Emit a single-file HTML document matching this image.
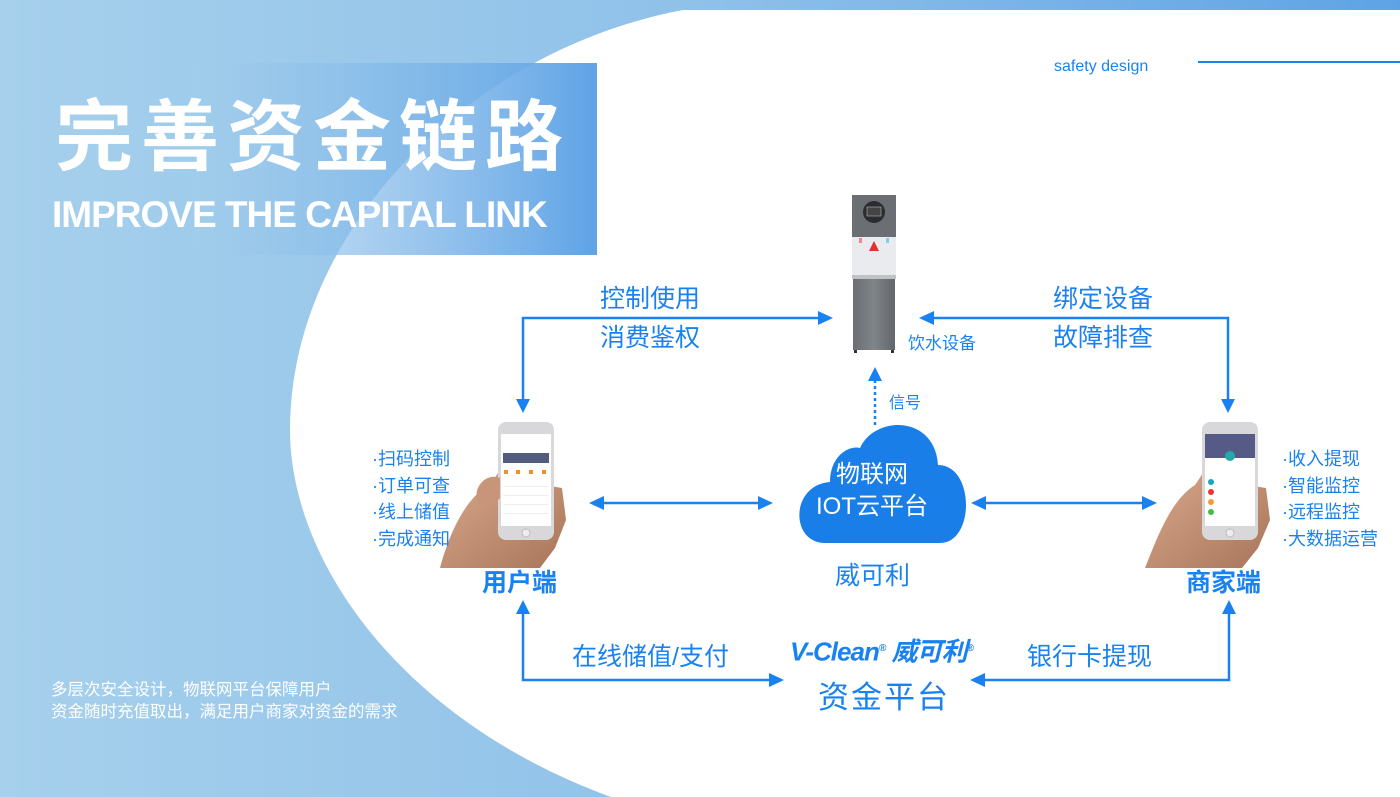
<!DOCTYPE html>
<html><head><meta charset="utf-8"><style>
html,body{margin:0;padding:0;}
body{width:1400px;height:797px;overflow:hidden;position:relative;font-family:"Liberation Sans","Noto Sans CJK SC",sans-serif;}
.t{position:absolute;white-space:nowrap;color:#1a82f0;font-family:"Liberation Sans","Noto Sans CJK SC",sans-serif;}
</style></head><body>
<svg width="1400" height="797" style="position:absolute;left:0;top:0">
<defs>
<linearGradient id="bg" x1="0" x2="1" y1="0" y2="0"><stop offset="0" stop-color="#a6d0ec"/><stop offset="0.5" stop-color="#8fc1e9"/><stop offset="1" stop-color="#5fa3e6"/></linearGradient>
<linearGradient id="tb" x1="0" x2="1"><stop offset="0" stop-color="#a3cdec" stop-opacity="0.5"/><stop offset="1" stop-color="#5fa3e6"/></linearGradient>
<linearGradient id="gr" x1="0" x2="1"><stop offset="0" stop-color="#6a6e72"/><stop offset="0.5" stop-color="#80858a"/><stop offset="1" stop-color="#62666a"/></linearGradient>
<linearGradient id="hand" x1="0" x2="1" y1="0" y2="1"><stop offset="0" stop-color="#d9a98c"/><stop offset="1" stop-color="#a8755a"/></linearGradient>
</defs>
<rect width="1400" height="797" fill="url(#bg)"/>
<path d="M1400 10 L683 10 C470 50 290 230 290 430 C290 560 400 720 611 797 L1400 797 Z" fill="#fff"/>
<rect x="195" y="63" width="402" height="192" fill="url(#tb)"/>
<line x1="1198" y1="62" x2="1400" y2="62" stroke="#1a82f0" stroke-width="2"/>
<g stroke="#1a82f0" stroke-width="2.5" fill="none">
<polyline points="523,402 523,318 822,318"/>
<polyline points="930,318 1228,318 1228,402"/>
<line x1="875" y1="425" x2="875" y2="378" stroke-dasharray="3,3"/>
<line x1="600" y1="503" x2="762" y2="503"/>
<line x1="982" y1="503" x2="1146" y2="503"/>
<polyline points="523,612 523,680 773,680"/>
<polyline points="1229,612 1229,680 982,680"/>
</g>
<g fill="#1a82f0">
<polygon points="833,318 818,311 818,325"/>
<polygon points="919,318 934,311 934,325"/>
<polygon points="523,413 516,399 530,399"/>
<polygon points="1228,413 1221,399 1235,399"/>
<polygon points="875,367 868,381 882,381"/>
<polygon points="589,503 604,496 604,510"/>
<polygon points="773,503 758,496 758,510"/>
<polygon points="971,503 986,496 986,510"/>
<polygon points="1157,503 1142,496 1142,510"/>
<polygon points="523,600 516,614 530,614"/>
<polygon points="1229,600 1222,614 1236,614"/>
<polygon points="784,680 769,673 769,687"/>
<polygon points="970,680 985,673 985,687"/>
</g>
<!-- cloud -->
<path d="M825 543 C790 543 790 485 830 482 C830 455 850 445 860 448 C875 415 935 415 938 465 C975 465 975 543 940 543 Z" fill="#1a7ee8"/>
<!-- dispenser -->
<rect x="852" y="195" width="44" height="42" fill="#6b6f73"/>
<circle cx="874" cy="212" r="11" fill="#2a2c30"/>
<rect x="867" y="207" width="14" height="9" fill="#444" stroke="#ccc" stroke-width="0.5"/>
<rect x="852" y="237" width="44" height="38" fill="#e9ebee"/>
<polygon points="874,241 869,251 879,251" fill="#d33"/>
<rect x="859" y="238" width="3" height="5" fill="#e88"/><rect x="886" y="238" width="3" height="5" fill="#8ce"/>
<rect x="852" y="275" width="44" height="4" fill="#c0c3c6"/>
<rect x="853" y="279" width="42" height="71" fill="url(#gr)"/>
<rect x="854" y="350" width="3" height="3" fill="#333"/><rect x="891" y="350" width="3" height="3" fill="#333"/>
<!-- left phone hand -->
<path d="M440 568 C450 530 468 495 490 485 L500 470 L515 480 L562 488 L566 520 L555 548 L540 568 Z" fill="url(#hand)"/>
<rect x="498" y="422" width="56" height="118" rx="8" fill="#d8d8da"/>
<rect x="501" y="434" width="50" height="92" fill="#fff"/>
<rect x="503" y="453" width="46" height="10" fill="#525c7e"/>
<g fill="#f0902a"><rect x="504" y="470" width="4" height="4"/><rect x="516" y="470" width="4" height="4"/><rect x="529" y="470" width="4" height="4"/><rect x="542" y="470" width="4" height="4"/></g>
<g fill="#eee"><rect x="503" y="486" width="46" height="1"/><rect x="503" y="495" width="46" height="1"/><rect x="503" y="504" width="46" height="1"/><rect x="503" y="513" width="46" height="1"/></g>
<circle cx="526" cy="533" r="4" fill="#eee" stroke="#bbb"/>
<path d="M500 478 C485 472 472 490 478 500 C485 508 496 504 500 498 Z" fill="#c8957a"/>
<!-- right phone hand -->
<path d="M1145 568 C1160 530 1172 500 1195 485 L1205 470 L1215 480 L1266 488 L1270 520 L1258 548 L1242 568 Z" fill="url(#hand)"/>
<rect x="1202" y="422" width="56" height="118" rx="8" fill="#d8d8da"/>
<rect x="1205" y="434" width="50" height="92" fill="#fff"/>
<rect x="1205" y="434" width="50" height="24" fill="#565a86"/>
<circle cx="1230" cy="456" r="5" fill="#2aa"/>
<circle cx="1211" cy="482" r="3" fill="#1ab"/><circle cx="1211" cy="492" r="3" fill="#e33"/><circle cx="1211" cy="502" r="3" fill="#f93"/><circle cx="1211" cy="512" r="3" fill="#4b4"/>
<circle cx="1230" cy="533" r="4" fill="#eee" stroke="#bbb"/>
</svg>

<div class="t" style="left:55px;top:90px;font-size:78px;font-weight:bold;color:#fff;letter-spacing:8px;line-height:94px">完善资金链路</div>
<div class="t" style="left:52px;top:193px;font-size:37px;font-weight:bold;color:#fff;line-height:44px;letter-spacing:-1px">IMPROVE THE CAPITAL LINK</div>
<div class="t" style="left:1054px;top:57px;font-size:16px;line-height:20px">safety design</div>

<div class="t" style="left:600px;top:284px;font-size:25px;line-height:30px">控制使用</div>
<div class="t" style="left:600px;top:323px;font-size:25px;line-height:30px">消费鉴权</div>
<div class="t" style="left:1053px;top:284px;font-size:25px;line-height:30px">绑定设备</div>
<div class="t" style="left:1053px;top:323px;font-size:25px;line-height:30px">故障排查</div>
<div class="t" style="left:908px;top:333px;font-size:17px;line-height:22px">饮水设备</div>
<div class="t" style="left:889px;top:394px;font-size:16px;line-height:20px">信号</div>
<div class="t" style="left:836px;top:461px;font-size:24px;line-height:28px;color:#fff">物联网</div>
<div class="t" style="left:816px;top:493px;font-size:24px;line-height:28px;color:#fff">IOT云平台</div>
<div class="t" style="left:835px;top:561px;font-size:25px;line-height:30px">威可利</div>

<div class="t" style="left:372px;top:446px;font-size:18px;line-height:26.5px">·扫码控制<br>·订单可查<br>·线上储值<br>·完成通知</div>
<div class="t" style="left:1282px;top:446px;font-size:18px;line-height:26.5px">·收入提现<br>·智能监控<br>·远程监控<br>·大数据运营</div>
<div class="t" style="left:482px;top:567px;font-size:25px;font-weight:bold;line-height:32px">用户端</div>
<div class="t" style="left:1186px;top:567px;font-size:25px;font-weight:bold;line-height:32px">商家端</div>

<div class="t" style="left:572px;top:642px;font-size:25px;line-height:30px">在线储值/支付</div>
<div class="t" style="left:1027px;top:642px;font-size:25px;line-height:30px">银行卡提现</div>
<div class="t" style="left:790px;top:633px;font-size:26px;font-weight:bold;font-style:italic;line-height:32px;letter-spacing:-1px">V-Clean<sup style="font-size:10px">®</sup> 威可利<sup style="font-size:10px">®</sup></div>
<div class="t" style="left:818px;top:679px;font-size:31px;line-height:38px;letter-spacing:2px">资金平台</div>

<div class="t" style="left:51px;top:679px;font-size:16.5px;line-height:22px;color:#fff">多层次安全设计，物联网平台保障用户<br>资金随时充值取出，满足用户商家对资金的需求</div>
</body></html>
